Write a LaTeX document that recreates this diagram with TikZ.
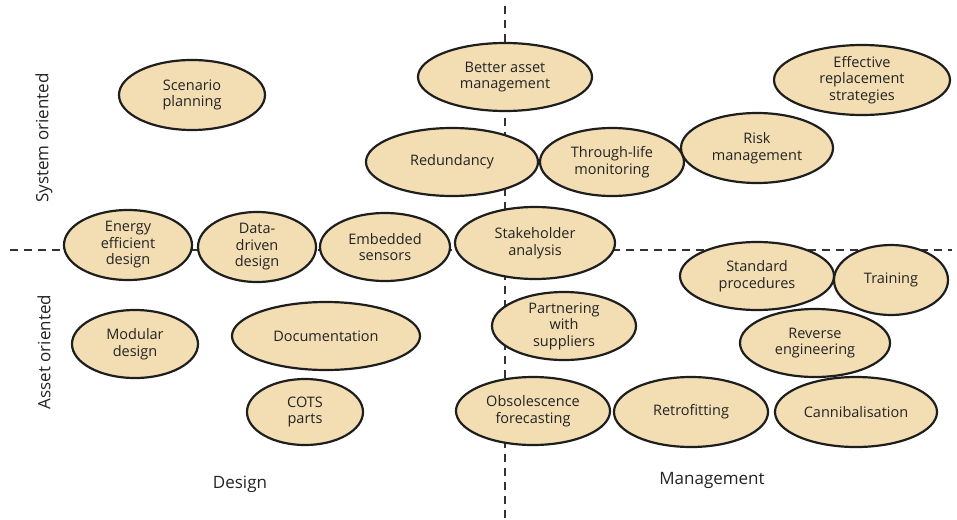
\documentclass[tikz,border=0pt]{standalone}
\usepackage{fontspec}
\setmainfont{Open Sans}
\usetikzlibrary{shapes.geometric}
\definecolor{parch}{RGB}{243,222,180}
\definecolor{edge}{RGB}{30,30,30}
\definecolor{txt}{RGB}{35,35,35}
\tikzset{
  oval/.style={ellipse, draw=edge, line width=2.2pt, fill=parch, inner sep=0pt,
    align=center, text=txt, font=\fontsize{14.5}{16.5}\selectfont},
  axisline/.style={draw=black!80, line width=1.4pt, dash pattern=on 8pt off 6pt},
  axislabel/.style={text=txt, font=\fontsize{17}{20}\selectfont}
}
\newcommand{\ov}[6]{\node[oval, minimum width=#4pt, minimum height=#5pt] (#1) at (#2,#3) {#6};}
\begin{document}
\begin{tikzpicture}[x=1pt,y=-1pt]
\useasboundingbox (0,0) rectangle (957,519);
\coordinate (vt) at (505,6);
\coordinate (vb) at (505,519);
\coordinate (hl) at (10,250);
\coordinate (hr) at (952,250);
\draw[axisline] (vt) -- (vb);
\draw[axisline] (hl) -- (hr);

\ov{scen}{192}{95}{146}{70}{Scenario\\planning}
\ov{bam}{505}{77}{174}{68}{Better asset\\management}
\ov{eff}{862}{80}{176}{70}{Effective\\replacement\\strategies}
\ov{red}{452}{162}{172}{68}{Redundancy}
\ov{thr}{612}{162}{144}{68}{Through-life\\monitoring}
\ov{risk}{757}{148}{152}{70}{Risk\\management}
\ov{ene}{128}{245}{128}{70}{Energy\\efficient\\design}
\ov{data}{257}{247}{118}{70}{Data-\\driven\\design}
\ov{emb}{385}{247}{130}{68}{Embedded\\sensors}
\ov{stk}{535}{243}{160}{72}{Stakeholder\\analysis}
\ov{std}{757}{276}{154}{68}{Standard\\procedures}
\ov{trn}{891}{280}{114}{70}{Training}
\ov{mod}{135}{344}{126}{68}{Modular\\design}
\ov{doc}{326}{336}{188}{68}{Documentation}
\ov{part}{564}{326}{144}{68}{Partnering\\with\\suppliers}
\ov{rev}{815}{343}{150}{68}{Reverse\\engineering}
\ov{cots}{305}{412}{116}{66}{COTS\\parts}
\ov{obs}{533}{411}{154}{68}{Obsolescence\\forecasting}
\ov{ret}{691}{412}{154}{70}{Retrofitting}
\ov{can}{856}{412}{162}{70}{Cannibalisation}

\node[axislabel, rotate=90] (sys) at (44,138) {System oriented};
\node[axislabel, rotate=90] (ass) at (44,352) {Asset oriented};
\node[axislabel] (des) at (240,484) {Design};
\node[axislabel] (man) at (712,480) {Management};
\end{tikzpicture}
\end{document}
